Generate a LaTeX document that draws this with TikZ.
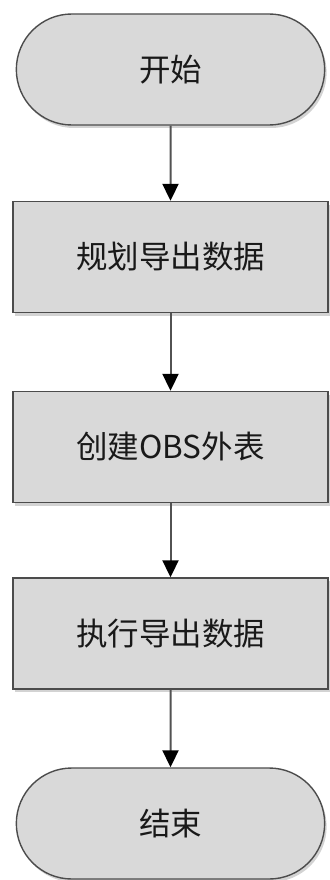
\documentclass[tikz,border=0pt]{standalone}
\usepackage{fontspec}
\setmainfont{Noto Sans CJK SC}
\usetikzlibrary{shapes.misc,shadows,arrows.meta}

\begin{document}
\begin{tikzpicture}[x=1pt,y=1pt,
  term/.style={rounded rectangle,draw=black!70,line width=1.4pt,fill=black!15,
    minimum width=315pt,minimum height=111pt,text=black!90,
    font=\fontsize{31.5pt}{36pt}\selectfont,
    drop shadow={shadow xshift=2pt,shadow yshift=-3pt,opacity=0.35}},
  stepbox/.style={term,rectangle},
  flow/.style={draw=black!68,line width=2pt,-{Triangle[width=16pt,length=17pt,color=black]}}]
  \useasboundingbox (0,0) rectangle (329,-880);

  \node [term] (start) at (170.5,-69.5) {开始};
  \node [stepbox] (plan) at (170.5,-257) {规划导出数据};
  \node [stepbox] (obs) at (170.5,-447) {创建OBS外表};
  \node [stepbox] (export) at (170.5,-633.5) {执行导出数据};
  \node [term] (stop) at (170.5,-823.5) {结束};

  \draw [flow] (start) -- (plan);
  \draw [flow] (plan) -- (obs);
  \draw [flow] (obs) -- (export);
  \draw [flow] (export) -- (stop);
\end{tikzpicture}
\end{document}
